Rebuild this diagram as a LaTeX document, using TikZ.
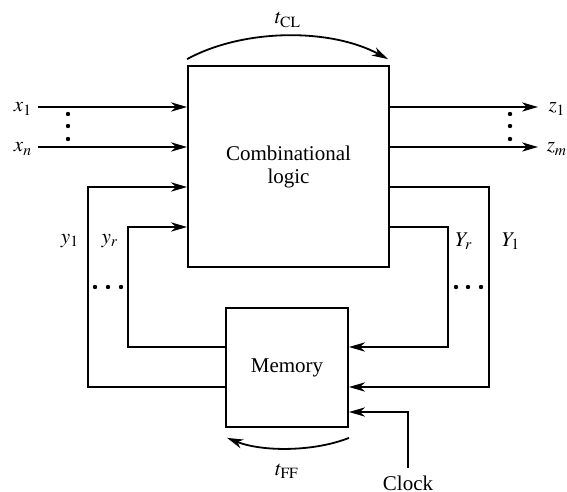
\documentclass[tikz,border=0pt]{standalone}
\usepackage{mathptmx}
\usepackage{fontspec}
\setmainfont{Liberation Serif}
\usetikzlibrary{arrows.meta,calc,positioning}
\tikzset{
  blk/.style={draw,inner sep=0pt,align=center},
  dot/.style={fill,circle,inner sep=0pt,minimum size=2.2pt}
}

\begin{document}
\begin{tikzpicture}[x=0.5pt,y=-0.5pt,line width=0.9pt,
    font=\fontsize{10.5}{11.5}\selectfont,
    >={Stealth[length=8pt,width=4.6pt,inset=2.4pt]}]
  \useasboundingbox (0,0) rectangle (567,492);
  % blocks
  \node[blk,minimum width=100.5pt,minimum height=100.5pt] (cl) at (288.5,166.5) {Combinational\\logic};
  \node[blk,minimum width=61pt,minimum height=59.5pt] (mem) at (287,367.5) {Memory};
  % rows used by the connectors
  \coordinate (r1) at (0,187);
  \coordinate (r2) at (0,227);
  \coordinate (r3) at (0,347);
  \coordinate (r4) at (0,387);
  \coordinate (r5) at (0,412);
  % inputs and outputs
  \foreach \n/\yy/\lab in {x1/107/x_1,xn/147/x_n} {
    \coordinate (\n) at (38,\yy);
    \node (\n lab) at (23,\yy+2) {$\lab$};
    \draw[->] (\n) -- (\n -| cl.west);
  }
  \foreach \n/\yy/\lab in {z1/107/z_1,zm/147/z_m} {
    \coordinate (\n) at (538,\yy);
    \node (\n lab) at (557,\yy+2) {$\lab$};
    \draw[->] (\n -| cl.east) -- (\n);
  }
  \foreach \yy in {114,126,139} {
    \node[dot] (in\yy) at (68,\yy) {};
    \node[dot] (out\yy) at (510,\yy) {};
  }
  % feedback loops
  \coordinate (ya) at (88,287);
  \coordinate (yb) at (128,287);
  \coordinate (Yb) at (448,287);
  \coordinate (Ya) at (489,287);
  \draw[->] (mem.west |- r4) -| (ya) |- (cl.west |- r1);
  \draw[->] (mem.west |- r3) -| (yb) |- (cl.west |- r2);
  \draw[->] (cl.east |- r1) -| (Ya) |- (mem.east |- r4);
  \draw[->] (cl.east |- r2) -| (Yb) |- (mem.east |- r3);
  \foreach \xx in {95,108,121} \node[dot] (l\xx) at (\xx,287) {};
  \foreach \xx in {456,468,481} \node[dot] (r\xx) at (\xx,287) {};
  \node (y1lab) at (70,241) {$y_1$};
  \node (yrlab) at (110,241) {$y_r$};
  \node (Yrlab) at (464,241) {$Y_r$};
  \node (Y1lab) at (511,241) {$Y_1$};
  % clock
  \node[anchor=north] (clk) at (408,468) {Clock};
  \draw[->] (clk.north) |- (mem.east |- r5);
  % delays
  \draw[->] ([yshift=3pt]cl.north west) .. controls +(57,-31) and +(-57,-31) .. ([yshift=3pt,xshift=-1pt]cl.north east);
  \node (tcl) at (288,20) {$t_{\mathrm{CL}}$};
  \draw[->] ([yshift=-5pt]mem.south east) .. controls +(-35,14) and +(35,14) .. ([yshift=-5pt,xshift=1pt]mem.south west);
  \node (tff) at (287,471) {$t_{\mathrm{FF}}$};
\end{tikzpicture}
\end{document}
